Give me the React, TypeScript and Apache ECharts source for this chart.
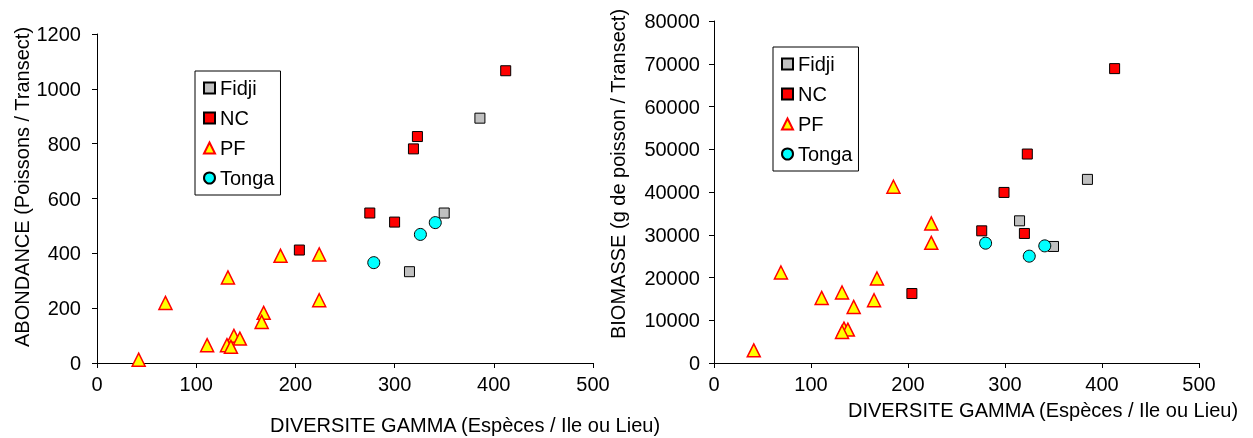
import React, { useEffect, useRef } from "react";
import * as echarts from "echarts";

// ---- Data: left chart (ABONDANCE) ----
const fidjiDivA = [386, 350, 315];
const fidjiAbond = [893, 547, 333];
const ncDivA = [412, 323, 319, 275, 300, 204];
const ncAbond = [1066, 826, 781, 547, 514, 412];
const pfDivA = [42, 69, 132, 185, 224, 224, 168, 166, 111, 138, 144, 131, 135];
const pfAbond = [12, 219, 312, 391, 396, 229, 183, 150, 65, 99, 89, 65, 59];
const tongaDivA = [279, 326, 341];
const tongaAbond = [366, 469, 512];

// ---- Data: right chart (BIOMASSE) ----
const fidjiDivB = [385, 315, 350];
const fidjiBiom = [42950, 33260, 27260];
const ncDivB = [413, 323, 299, 276, 320, 204];
const ncBiom = [68860, 48880, 39900, 30920, 30300, 16250];
const pfDivB = [41, 69, 111, 132, 134, 138, 132, 144, 165, 168, 185, 224, 224];
const pfBiom = [2970, 21170, 15220, 16490, 8050, 7820, 7260, 13120, 14680, 19770, 41220, 32650, 28100];
const tongaDivB = [280, 325, 341];
const tongaBiom = [28030, 24990, 27400];

const legendNames = ["Fidji", "NC", "PF", "Tonga"];
const xTitle = "DIVERSITE GAMMA (Espèces / Ile ou Lieu)";
const yTitleA = "ABONDANCE (Poissons / Transect)";
const yTitleB = "BIOMASSE (g de poisson / Transect)";

const FONT = "'Liberation Sans', Arial, sans-serif";
const FS = 20;

const zip = (xs: number[], ys: number[]) => xs.map((x, i) => [x, ys[i]]);

const styles: Record<string, any> = {
  Fidji: { symbol: "rect", symbolSize: 10, itemStyle: { color: "#C0C0C0", borderColor: "#000", borderWidth: 1, opacity: 1 } },
  NC: { symbol: "rect", symbolSize: 10, itemStyle: { color: "#FF0000", borderColor: "#000", borderWidth: 1, opacity: 1 } },
  PF: { symbol: "triangle", symbolSize: 13, itemStyle: { color: "#FFFF00", borderColor: "#FF0000", borderWidth: 1.5, opacity: 1 } },
  Tonga: { symbol: "circle", symbolSize: 12, itemStyle: { color: "#00FFFF", borderColor: "#000", borderWidth: 1, opacity: 1 } },
};

function mkSeries(name: string, idx: number, data: number[][]) {
  return {
    type: "scatter",
    name,
    xAxisIndex: idx,
    yAxisIndex: idx,
    data,
    ...styles[name],
    emphasis: { disabled: true },
  };
}

const axisCommon = {
  axisLine: { show: true, onZero: false, lineStyle: { color: "#000", width: 1 } },
  axisTick: { show: true, inside: false, length: 5, lineStyle: { color: "#000" } },
  splitLine: { show: false },
};

const plain = (v: number) => String(v);

export default function App() {
  const ref = useRef<HTMLDivElement>(null);
  useEffect(() => {
    if (!ref.current) return;
    const chart = echarts.init(ref.current, null, { renderer: "svg" });
    const legendBase = {
      orient: "vertical",
      borderColor: "#000",
      borderWidth: 1,
      padding: [7, 6, 7, 8],
      itemGap: 10,
      itemWidth: 11,
      itemHeight: 11,
      textStyle: { fontFamily: FONT, fontSize: FS, color: "#000" },
      data: legendNames,
      selectedMode: false,
    };
    chart.setOption({
      animation: false,
      textStyle: { fontFamily: FONT },
      grid: [
        { left: 97, top: 34, width: 496, height: 329 },
        { left: 714, top: 21, width: 485, height: 342 },
      ],
      xAxis: [0, 1].map((i) => ({
        type: "value",
        gridIndex: i,
        min: 0,
        max: 500,
        interval: 100,
        ...axisCommon,
        axisLabel: { fontFamily: FONT, fontSize: FS, color: "#000", margin: 11, formatter: plain },
      })),
      yAxis: [
        {
          type: "value",
          gridIndex: 0,
          min: 0,
          max: 1200,
          interval: 200,
          ...axisCommon,
          axisLabel: { fontFamily: FONT, fontSize: FS, color: "#000", margin: 16, formatter: plain },
        },
        {
          type: "value",
          gridIndex: 1,
          min: 0,
          max: 80000,
          interval: 10000,
          ...axisCommon,
          axisLabel: { fontFamily: FONT, fontSize: FS, color: "#000", margin: 14, formatter: plain },
        },
      ],
      legend: [
        { ...legendBase, left: 195, top: 71 },
        { ...legendBase, left: 773, top: 47 },
      ],
      series: [
        mkSeries("Fidji", 0, zip(fidjiDivA, fidjiAbond)),
        mkSeries("NC", 0, zip(ncDivA, ncAbond)),
        mkSeries("PF", 0, zip(pfDivA, pfAbond)),
        mkSeries("Tonga", 0, zip(tongaDivA, tongaAbond)),
        mkSeries("Fidji", 1, zip(fidjiDivB, fidjiBiom)),
        mkSeries("NC", 1, zip(ncDivB, ncBiom)),
        mkSeries("PF", 1, zip(pfDivB, pfBiom)),
        mkSeries("Tonga", 1, zip(tongaDivB, tongaBiom)),
      ],
      graphic: [
        {
          type: "text",
          x: 22,
          y: 187,
          rotation: Math.PI / 2,
          style: { text: yTitleA, font: `${FS}px ${FONT}`, fill: "#000", textAlign: "center", textVerticalAlign: "middle" },
        },
        {
          type: "text",
          x: 618,
          y: 174,
          rotation: Math.PI / 2,
          style: { text: yTitleB, font: `${FS}px ${FONT}`, fill: "#000", textAlign: "center", textVerticalAlign: "middle" },
        },
        {
          type: "text",
          x: 465,
          y: 425,
          style: { text: xTitle, font: `${FS}px ${FONT}`, fill: "#000", textAlign: "center", textVerticalAlign: "middle" },
        },
        {
          type: "text",
          x: 1043,
          y: 410,
          style: { text: xTitle, font: `${FS}px ${FONT}`, fill: "#000", textAlign: "center", textVerticalAlign: "middle" },
        },
      ],
    });
    return () => chart.dispose();
  }, []);
  return <div ref={ref} style={{ position: "fixed", left: 0, top: 0, width: 1253, height: 438 }} />;
}
